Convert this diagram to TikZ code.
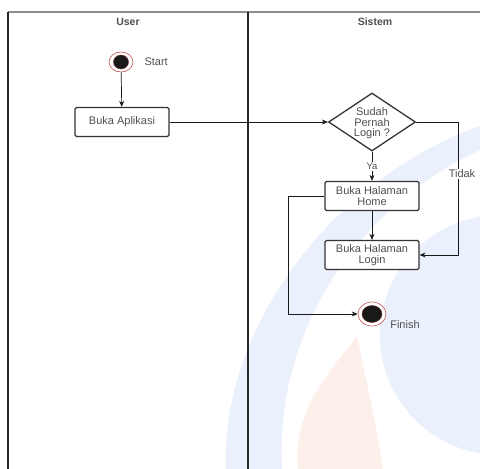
\documentclass[tikz,border=0pt]{standalone}
\usepackage{fontspec}
\setmainfont{Liberation Sans}
\usetikzlibrary{arrows.meta,shapes.geometric}
\definecolor{txtgray}{HTML}{505050}
\definecolor{boxline}{HTML}{333333}
\definecolor{ringred}{HTML}{C0504D}
\definecolor{wmblue}{HTML}{EAF0FC}
\definecolor{wmorange}{HTML}{FDEFE9}
\tikzset{
  lane/.style={line width=1.1pt, draw=black!85},
  headline/.style={line width=1.3pt, draw=black!45},
  lanetitle/.style={font=\fontsize{10.5}{11}\selectfont\bfseries, text=txtgray},
  actbox/.style={rectangle, rounded corners=1.5pt, draw=boxline, line width=1.3pt,
    minimum width=94pt, minimum height=29pt, inner sep=1pt, align=center,
    font=\fontsize{11}{11}\selectfont, text=txtgray, fill=white},
  decision/.style={diamond, draw=boxline, line width=1.3pt, fill=white,
    minimum width=87pt, minimum height=58pt, inner sep=0pt},
  flow/.style={draw=black!90, line width=0.7pt, -{Stealth[length=6pt,width=5pt]}},
  tag/.style={font=\fontsize{11}{12}\selectfont, text=txtgray},
  smalltag/.style={font=\fontsize{9.5}{10}\selectfont, text=txtgray, fill=white, inner sep=1pt},
}
\begin{document}
\begin{tikzpicture}[x=1pt, y=-1pt]
  \useasboundingbox (0,0) rectangle (480,469);
  \fill[white] (0,0) rectangle (480,469);

  % faint background emblem
  \begin{scope}
    \clip (0,0) rectangle (480,469);
    \fill[wmblue] (500,335) circle (120);
    \fill[wmblue] (226,469) .. controls (220,330) and (330,180) .. (480,126)
      -- (480,150) .. controls (360,205) and (274,330) .. (282,469) -- cycle;
    \fill[wmorange] (357,336) .. controls (330,372) and (292,410) .. (298,469)
      -- (383,469) .. controls (376,420) and (364,372) .. cycle;
  \end{scope}

  % swimlanes
  \draw[headline] (8,12) -- (480,12);
  \draw[lane] (8,12) -- (8,469);
  \draw[lane] (248,12) -- (248,469);
  \node[lanetitle] (userlane) at (128,22) {User};
  \node[lanetitle] (syslane) at (375,22) {Sistem};

  % initial node
  \node[ellipse, draw=ringred, line width=0.6pt, fill=white,
        minimum width=24pt, minimum height=20pt, inner sep=0pt,
        path picture={\fill[black!90, draw=ringred!60!black, line width=0.5pt]
          (path picture bounding box.center) ellipse (7.5pt and 7pt);}]
        (start) at (121,62) {};
  \node[tag, anchor=west] (starttxt) at (141,62) {Start};

  % activities
  \node[actbox] (app) at (122,122) {Buka Aplikasi};
  \node[decision, label={[align=center, font=\fontsize{11}{10.5}\selectfont,
        text=txtgray, yshift=-1.5pt]center:Sudah\\Pernah\\Login ?}] (dec) at (372,122) {};
  \node[actbox] (home) at (372,196) {Buka Halaman\\Home};
  \node[actbox] (login) at (372,255) {Buka Halaman\\Login};

  % final node
  \node[ellipse, draw=ringred, line width=0.6pt, fill=white,
        minimum width=28pt, minimum height=24pt, inner sep=0pt,
        path picture={\fill[black!90, draw=ringred!60!black, line width=0.5pt]
          (path picture bounding box.center) ellipse (10pt and 8.5pt);}]
        (finish) at (372,314) {};
  \node[tag] (finishtxt) at (405,325) {Finish};

  % control flow
  \coordinate (tidakturn) at (458,122);
  \coordinate (hometurn) at (288,196);
  \draw[flow] (start) -- (app);
  \draw[flow] (app) -- (dec);
  \draw[flow] (dec) -- node[smalltag] {Ya} (home);
  \draw[flow] (home) -- (login);
  \draw[flow] (dec.east) -- (tidakturn) |- node[pos=0.195, tag, fill=white, inner sep=1pt, xshift=4pt] {Tidak} (login.east);
  \draw[flow] (home.west) -- (hometurn) |- (finish.west);
\end{tikzpicture}
\end{document}
